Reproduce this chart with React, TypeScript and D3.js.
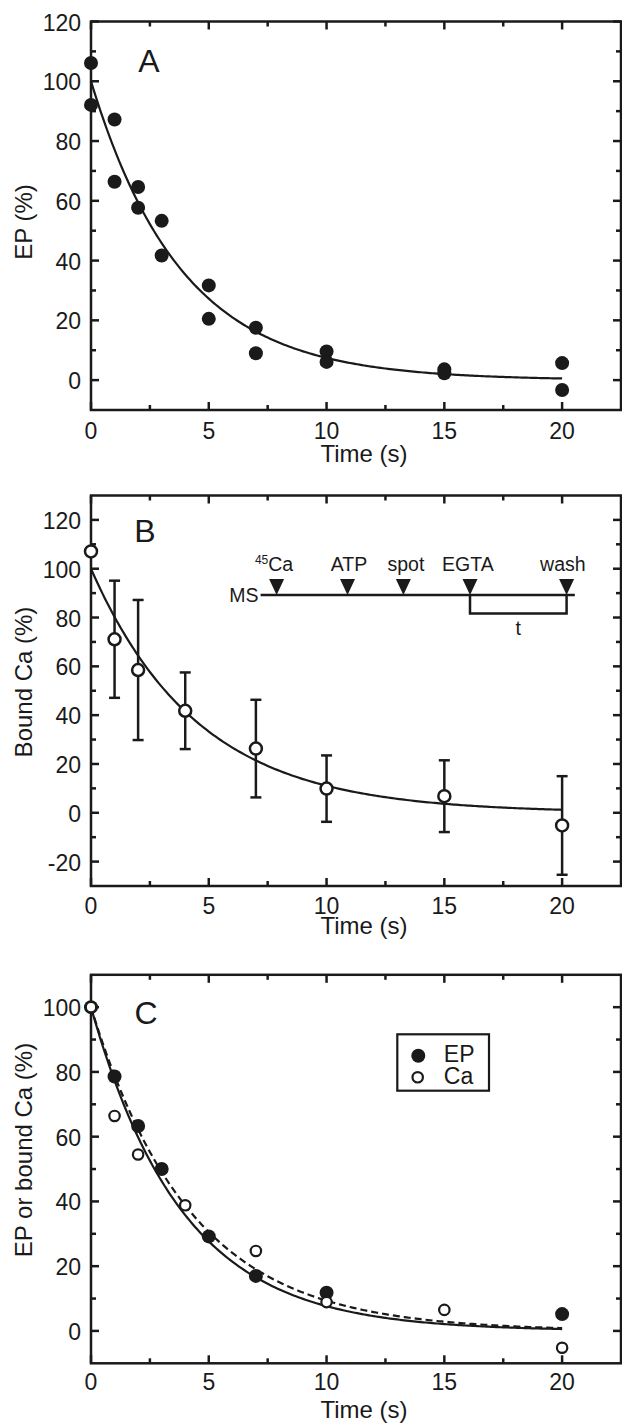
import React from 'react';
import * as d3 from 'd3';

// ---------------- data ----------------
// Panel A: EP (%) vs time, two replicates per time point
const timeA = [0, 0, 1, 1, 2, 2, 3, 3, 5, 5, 7, 7, 10, 10, 15, 15, 20, 20];
const epA = [106.1, 92.1, 87.2, 66.4, 64.6, 57.7, 53.3, 41.7, 31.7, 20.5, 17.5, 9.0, 9.6, 6.1, 3.6, 2.3, 5.7, -3.3];

// Panel B: bound Ca (%) mean ± error
const timeB = [0, 1, 2, 4, 7, 10, 15, 20];
const caB = [107.1, 71.1, 58.5, 41.8, 26.3, 9.9, 6.8, -5.2];
const errB = [0, 24.0, 28.7, 15.7, 20.0, 13.6, 14.7, 20.2];

// Panel C: normalized EP and Ca
const timeC_EP = [0, 1, 2, 3, 5, 7, 10, 20];
const epC = [100, 78.6, 63.3, 50.0, 29.2, 17.0, 11.8, 5.2];
const timeC_Ca = [0, 1, 2, 4, 7, 10, 15, 20];
const caC = [100, 66.4, 54.5, 38.8, 24.7, 8.9, 6.5, -5.2];

// single-exponential fits: 100 * exp(-k t)
const kA = 0.26;
const kB = 0.22;
const kC_EP = 0.257;
const kC_Ca = 0.237;
const fitEnd = 20;

// ticks
const xMajor = [0, 5, 10, 15, 20];
const xMinor = [2.5, 7.5, 12.5, 17.5];
const yMajorA = [0, 20, 40, 60, 80, 100, 120];
const yMinorA = [10, 30, 50, 70, 90, 110];
const yMajorB = [-20, 0, 20, 40, 60, 80, 100, 120];
const yMinorB = [-10, 10, 30, 50, 70, 90, 110];
const yMajorC = [0, 20, 40, 60, 80, 100];
const yMinorC = [10, 30, 50, 70, 90];

// inset scheme in panel B (time / bound-Ca units)
const insetLabels = ['Ca', 'ATP', 'spot', 'EGTA', 'wash'];
const insetLabelT = [7.77, 10.95, 13.37, 16.0, 20.03];
const insetTriT = [7.88, 10.89, 13.26, 16.09, 20.19];
const insetLine = [7.2, 20.54];
const insetLineY = 89.2;

// legend
const legendItems = ['EP', 'Ca'];

const FONT = '"Liberation Sans", Arial, Helvetica, sans-serif';
const W = 622;
const H = 1424;

const x = d3.scaleLinear().domain([0, 22.5]).range([91, 621]);
const yA = d3.scaleLinear().domain([-10, 120]).range([410, 21.5]);
const yB = d3.scaleLinear().domain([-30, 130]).range([886, 495.5]);
const yC = d3.scaleLinear().domain([-10, 110]).range([1363.3, 974.8]);

const AX = 2.5;

function Frame({ y, yMajor, yMinor, xLabelY }: any) {
  const [y0, y1] = y.range(); // bottom, top
  const xl = x.range()[0];
  const xr = x.range()[1];
  const els: any[] = [];
  xMajor.forEach((v, i) => {
    const px = x(v);
    els.push(<line key={'xb' + i} x1={px} x2={px} y1={y0} y2={y0 - 8} />);
    els.push(<line key={'xt' + i} x1={px} x2={px} y1={y1} y2={y1 + 8} />);
  });
  xMinor.forEach((v, i) => {
    const px = x(v);
    els.push(<line key={'xbm' + i} x1={px} x2={px} y1={y0} y2={y0 - 5} />);
    els.push(<line key={'xtm' + i} x1={px} x2={px} y1={y1} y2={y1 + 5} />);
  });
  yMajor.forEach((v: number, i: number) => {
    const py = y(v);
    els.push(<line key={'yl' + i} x1={xl} x2={xl + 8} y1={py} y2={py} />);
    els.push(<line key={'yr' + i} x1={xr} x2={xr - 8} y1={py} y2={py} />);
  });
  yMinor.forEach((v: number, i: number) => {
    const py = y(v);
    els.push(<line key={'ylm' + i} x1={xl} x2={xl + 5} y1={py} y2={py} />);
    els.push(<line key={'yrm' + i} x1={xr} x2={xr - 5} y1={py} y2={py} />);
  });
  return (
    <g>
      <g stroke="#1a1a1a" strokeWidth={AX}>{els}</g>
      <rect x={xl} y={y1} width={xr - xl} height={y0 - y1} fill="none" stroke="#1a1a1a" strokeWidth={AX} />
      <g fontFamily={FONT} fontSize={23} fill="#1a1a1a">
        {xMajor.map((v, i) => (
          <text key={'xt' + i} x={x(v)} y={xLabelY} textAnchor="middle">{v}</text>
        ))}
        {yMajor.map((v: number, i: number) => (
          <text key={'yt' + i} x={81} y={y(v) + 9} textAnchor="end">{v}</text>
        ))}
      </g>
    </g>
  );
}

function fitPath(y: any, k: number) {
  const ts = d3.range(0, fitEnd + 0.001, 0.1);
  return d3.line<number>().x((t) => x(t)).y((t) => y(100 * Math.exp(-k * t)))(ts) as string;
}

export default function App() {
  return (
    <svg width={W} height={H} style={{ position: 'absolute', left: 0, top: 0, background: '#fff' }}>
      <rect width={W} height={H} fill="#fff" />
      {/* ---------- Panel A ---------- */}
      <Frame y={yA} yMajor={yMajorA} yMinor={yMinorA} xLabelY={439} />
      <path d={fitPath(yA, kA)} fill="none" stroke="#1a1a1a" strokeWidth={2.2} />
      {timeA.map((t, i) => (
        <circle key={'a' + i} cx={x(t)} cy={yA(epA[i])} r={7} fill="#1a1a1a" />
      ))}
      <text x={149} y={71.7} fontFamily={FONT} fontSize={32} textAnchor="middle" fill="#1a1a1a">A</text>
      <text x={364} y={462} fontFamily={FONT} fontSize={24} textAnchor="middle" fill="#1a1a1a">Time (s)</text>
      <text transform="translate(31.5,222) rotate(-90)" fontFamily={FONT} fontSize={24} textAnchor="middle" fill="#1a1a1a">EP (%)</text>

      {/* ---------- Panel B ---------- */}
      <Frame y={yB} yMajor={yMajorB} yMinor={yMinorB} xLabelY={914} />
      <path d={fitPath(yB, kB)} fill="none" stroke="#1a1a1a" strokeWidth={2.2} />
      <g stroke="#1a1a1a" strokeWidth={2.5}>
        {timeB.map((t, i) =>
          errB[i] > 0 ? (
            <g key={'eb' + i}>
              <line x1={x(t)} x2={x(t)} y1={yB(caB[i] + errB[i])} y2={yB(caB[i] - errB[i])} />
              <line x1={x(t) - 5.5} x2={x(t) + 5.5} y1={yB(caB[i] + errB[i])} y2={yB(caB[i] + errB[i])} />
              <line x1={x(t) - 5.5} x2={x(t) + 5.5} y1={yB(caB[i] - errB[i])} y2={yB(caB[i] - errB[i])} />
            </g>
          ) : null
        )}
      </g>
      {timeB.map((t, i) => (
        <circle key={'b' + i} cx={x(t)} cy={yB(caB[i])} r={6} fill="#fff" stroke="#1a1a1a" strokeWidth={2.5} />
      ))}
      <text x={145} y={542} fontFamily={FONT} fontSize={32} textAnchor="middle" fill="#1a1a1a">B</text>
      <text x={364} y={934} fontFamily={FONT} fontSize={24} textAnchor="middle" fill="#1a1a1a">Time (s)</text>
      <text transform="translate(31.5,682) rotate(-90)" fontFamily={FONT} fontSize={24} textAnchor="middle" fill="#1a1a1a">Bound Ca (%)</text>

      {/* inset scheme */}
      <g fontFamily={FONT} fontSize={19.5} fill="#1a1a1a">
        {insetLabels.map((lab, i) =>
          i === 0 ? (
            <text key={'il' + i} x={x(insetLabelT[i])} y={yB(insetLineY) - 24} textAnchor="middle">
              <tspan fontSize={12} dy={-7}>45</tspan>
              <tspan dy={7}>{lab}</tspan>
            </text>
          ) : (
            <text key={'il' + i} x={x(insetLabelT[i])} y={yB(insetLineY) - 24} textAnchor="middle">{lab}</text>
          )
        )}
        <text x={x(insetLine[0]) - 2} y={yB(insetLineY) + 7} textAnchor="end">MS</text>
        <text x={(x(insetTriT[3]) + x(insetTriT[4])) / 2} y={yB(insetLineY) + 40} textAnchor="middle">t</text>
      </g>
      <line x1={x(insetLine[0])} x2={x(insetLine[1])} y1={yB(insetLineY)} y2={yB(insetLineY)} stroke="#1a1a1a" strokeWidth={2.5} />
      {insetTriT.map((t, i) => {
        const cx = x(t);
        const cy = yB(insetLineY);
        return <path key={'tri' + i} d={`M${cx - 7.5},${cy - 16} L${cx + 7.5},${cy - 16} L${cx},${cy} Z`} fill="#1a1a1a" />;
      })}
      <path
        d={`M${x(insetTriT[3])},${yB(insetLineY)} V${yB(insetLineY) + 18.3} H${x(insetTriT[4])} V${yB(insetLineY)}`}
        fill="none"
        stroke="#1a1a1a"
        strokeWidth={2.5}
      />

      {/* ---------- Panel C ---------- */}
      <Frame y={yC} yMajor={yMajorC} yMinor={yMinorC} xLabelY={1390} />
      <path d={fitPath(yC, kC_Ca)} fill="none" stroke="#1a1a1a" strokeWidth={2.2} strokeDasharray="7,4" />
      <path d={fitPath(yC, kC_EP)} fill="none" stroke="#1a1a1a" strokeWidth={2.2} />
      {timeC_EP.map((t, i) => (
        <circle key={'ce' + i} cx={x(t)} cy={yC(epC[i])} r={7} fill="#1a1a1a" />
      ))}
      {timeC_Ca.map((t, i) => (
        <circle key={'cc' + i} cx={x(t)} cy={yC(caC[i])} r={5.2} fill="#fff" stroke="#1a1a1a" strokeWidth={2.2} />
      ))}
      <text x={146} y={1024} fontFamily={FONT} fontSize={32} textAnchor="middle" fill="#1a1a1a">C</text>
      <text x={364} y={1418} fontFamily={FONT} fontSize={24} textAnchor="middle" fill="#1a1a1a">Time (s)</text>
      <text transform="translate(31.5,1150) rotate(-90)" fontFamily={FONT} fontSize={24} textAnchor="middle" fill="#1a1a1a">EP or bound Ca (%)</text>

      {/* legend */}
      <g transform="translate(397.3,1034.3)">
        <rect x={0} y={0} width={91.7} height={56.4} fill="#fff" stroke="#1a1a1a" strokeWidth={2.2} />
        <circle cx={21} cy={21.4} r={7} fill="#1a1a1a" />
        <circle cx={20.4} cy={43} r={5.2} fill="#fff" stroke="#1a1a1a" strokeWidth={2.2} />
        <g fontFamily={FONT} fontSize={23} fill="#1a1a1a">
          {legendItems.map((lab, i) => (
            <text key={'lg' + i} x={46.5} y={28 + i * 22} textAnchor="start">{lab}</text>
          ))}
        </g>
      </g>
    </svg>
  );
}
